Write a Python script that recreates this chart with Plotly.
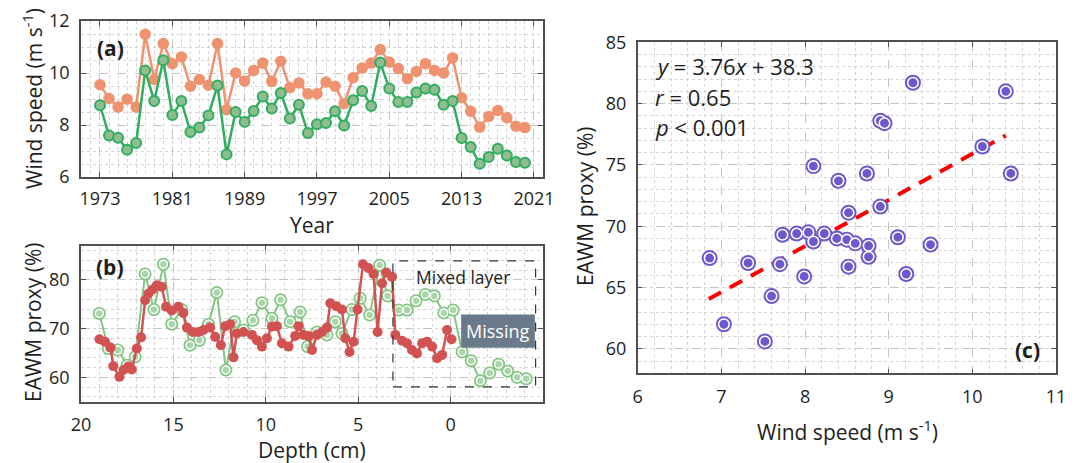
import plotly.graph_objects as go

W, H = 1077, 463

# ---------------- Data ----------------
years = list(range(1973, 2021))
wind_orange = [9.55, 9.02, 8.69, 8.99, 8.69, 11.49, 9.75, 11.13, 10.36, 10.62,
               9.49, 9.75, 9.53, 11.13, 8.59, 10.0, 9.69, 10.1, 10.38, 9.68,
               10.45, 9.44, 9.62, 9.2, 9.2, 9.65, 9.49, 8.82, 9.82, 10.19,
               10.38, 10.9, 10.42, 10.17, 9.78, 10.06, 10.36, 10.1, 10.0, 10.58,
               9.05, 8.53, 7.92, 8.33, 8.56, 8.28, 7.95, 7.9]
wind_green = [8.76, 7.6, 7.51, 7.05, 7.31, 10.1, 8.92, 10.49, 8.38, 8.92,
              7.73, 7.9, 8.37, 9.52, 6.87, 8.5, 8.12, 8.54, 9.1, 8.63,
              9.23, 8.25, 8.78, 7.69, 8.03, 8.08, 8.53, 7.98, 8.95, 9.31,
              8.73, 10.4, 9.4, 8.88, 8.88, 9.25, 9.4, 9.36, 8.78, 8.92,
              7.5, 7.15, 6.51, 6.77, 7.09, 6.83, 6.58, 6.55]

depth_green = [19.01, 18.52, 18.01, 17.5, 17.07, 16.53, 16.05, 15.54, 15.09, 14.55,
               14.1, 13.59, 13.1, 12.65, 12.16, 11.69, 11.2, 10.7, 10.21, 9.67,
               9.2, 8.68, 8.14, 7.74, 7.23, 6.69, 6.24, 5.88, 5.34, 4.89,
               4.38, 3.84, 3.41, 2.81, 2.36, 1.87, 1.37, 0.88, 0.37, -0.14,
               -0.62, -1.11, -1.61, -2.12, -2.6, -3.09, -3.6, -4.09]
eawm_green = [73.1, 65.9, 65.6, 62.5, 64.2, 81.2, 73.9, 83.2, 70.9, 73.9,
              66.6, 67.6, 70.9, 77.4, 61.5, 71.4, 69.7, 71.7, 75.3, 72.1,
              75.9, 71.4, 73.4, 66.3, 69.3, 68.7, 71.4, 69.0, 73.9, 76.2,
              72.8, 83.0, 76.7, 73.8, 73.8, 75.7, 77.0, 76.7, 73.2, 73.8,
              65.2, 63.4, 59.3, 60.9, 62.7, 61.3, 60.0, 59.7]

depth_red = [19.0, 18.7, 18.4, 18.25, 17.92, 17.7, 17.44, 17.25, 16.98, 16.75,
             16.53, 16.35, 16.12, 15.9, 15.63, 15.4, 15.09, 14.73, 14.46, 14.27,
             13.95, 13.64, 13.37, 13.01, 12.74, 12.43, 12.2, 11.93, 11.75, 11.57,
             11.21, 10.75, 10.48, 10.21, 9.94, 9.67, 9.4, 9.13, 8.77, 8.41,
             8.23, 7.96, 7.69, 7.5, 7.23, 6.96, 6.69, 6.51, 6.19, 5.88,
             5.7, 5.47, 5.25, 5.03, 4.74, 4.44, 4.17, 3.95, 3.71, 3.48,
             3.17, 2.99, 2.63, 2.36, 2.09, 1.82, 1.54, 1.27, 1.0, 0.73,
             0.46, 0.19, -0.05]
eawm_red = [67.8, 67.3, 66.1, 62.3, 60.1, 61.5, 62.2, 61.6, 65.9, 68.2,
            75.8, 77.2, 78.0, 78.9, 78.6, 74.5, 73.7, 74.5, 73.2, 70.2,
            69.3, 69.3, 69.7, 70.2, 68.3, 66.6, 70.5, 70.9, 64.1, 69.0,
            69.3, 68.7, 67.6, 66.3, 68.0, 70.4, 70.5, 67.0, 66.3, 68.5,
            70.5, 68.7, 68.5, 65.6, 68.7, 69.3, 70.2, 75.2, 74.6, 73.9,
            68.0, 65.2, 67.3, 73.9, 83.2, 82.4, 81.2, 69.3, 79.3, 81.5,
            80.6, 68.7, 67.5, 67.0, 65.6, 64.9, 67.0, 67.3, 66.3, 63.9,
            64.6, 69.7, 67.8]

wind_c = [6.86, 7.03, 7.32, 7.52, 7.6, 7.7, 7.73, 7.9, 7.99, 8.04,
          8.1, 8.1, 8.23, 8.38, 8.4, 8.5, 8.52, 8.52, 8.6, 8.74,
          8.76, 8.76, 8.9, 8.95, 8.9, 9.11, 9.21, 9.29, 9.5, 10.12,
          10.4, 10.46]
eawm_c = [67.4, 62.0, 67.0, 60.6, 64.3, 66.9, 69.3, 69.4, 65.9, 69.5,
          68.75, 74.9, 69.4, 69.0, 73.7, 68.9, 71.1, 66.7, 68.6, 74.3,
          68.4, 67.5, 78.6, 78.4, 71.6, 69.1, 66.1, 81.7, 68.5, 76.5,
          81.0, 74.3]

fit_slope, fit_intercept = 3.76, 38.3
fit_x = [6.85, 10.4]
fit_y = [fit_slope * v + fit_intercept for v in fit_x]

year_ticks = [1973, 1981, 1989, 1997, 2005, 2013, 2021]
depth_ticks = [20, 15, 10, 5, 0]

# ---------------- Colors ----------------
ORANGE = "#ee9270"
GREEN_LINE = "#2fae5f"
GREEN_FILL = "#8fbd8f"
LGREEN = "#84c584"
RED = "#d25252"
PURPLE = "#6a5acd"
FONT = "Open Sans"
TEXT = "#1e1e1e"


def px(x):
    return x / W


def py(y):
    return 1 - y / H


fig = go.Figure()

# ----- Panel (a) -----
fig.add_trace(go.Scatter(x=years, y=wind_orange, mode="lines+markers",
                         line=dict(color=ORANGE, width=2.5),
                         marker=dict(size=11.5, color=ORANGE),
                         xaxis="x", yaxis="y", showlegend=False))
fig.add_trace(go.Scatter(x=years, y=wind_green, mode="lines+markers",
                         line=dict(color=GREEN_LINE, width=2.5),
                         marker=dict(size=10, color=GREEN_FILL,
                                     line=dict(color=GREEN_LINE, width=2)),
                         xaxis="x", yaxis="y", showlegend=False))

# ----- Panel (b) -----
fig.add_trace(go.Scatter(x=depth_green, y=eawm_green, mode="lines+markers",
                         line=dict(color=LGREEN, width=2),
                         marker=dict(size=13, color=LGREEN),
                         xaxis="x2", yaxis="y2", showlegend=False))
fig.add_trace(go.Scatter(x=depth_green, y=eawm_green, mode="markers",
                         marker=dict(size=8, color="#a9d6a9",
                                     line=dict(color="white", width=1.5)),
                         xaxis="x2", yaxis="y2", showlegend=False))
fig.add_trace(go.Scatter(x=depth_red, y=eawm_red, mode="lines+markers",
                         line=dict(color=RED, width=2.5),
                         marker=dict(size=10, color=RED),
                         xaxis="x2", yaxis="y2", showlegend=False))

# ----- Panel (c) -----
fig.add_trace(go.Scatter(x=fit_x, y=fit_y, mode="lines",
                         line=dict(color="#ff0000", width=4, dash="14px,10px"),
                         xaxis="x3", yaxis="y3", showlegend=False))
fig.add_trace(go.Scatter(x=wind_c, y=eawm_c, mode="markers",
                         marker=dict(size=16, color=PURPLE),
                         xaxis="x3", yaxis="y3", showlegend=False))
fig.add_trace(go.Scatter(x=wind_c, y=eawm_c, mode="markers",
                         marker=dict(size=10.5, color=PURPLE,
                                     line=dict(color="white", width=1.6)),
                         xaxis="x3", yaxis="y3", showlegend=False))

# ---------------- Axes ----------------
def axis_common(**kw):
    d = dict(showline=True, linecolor="#505050", linewidth=1.5, mirror="allticks",
             ticks="inside", ticklen=5, tickcolor="#505050", tickwidth=1,
             showgrid=True, gridcolor="#c4c4c4", griddash="dash", gridwidth=1,
             zeroline=False, automargin=False,
             tickfont=dict(family=FONT, size=18, color=TEXT))
    d.update(kw)
    return d


MINOR = dict(showgrid=True, gridcolor="#d4d4d4", griddash="dot", ticks="")

fig.update_layout(
    width=W, height=H, margin=dict(l=0, r=0, t=0, b=0, autoexpand=False),
    paper_bgcolor="white", plot_bgcolor="white",
    font=dict(family=FONT, color=TEXT),
    xaxis=axis_common(domain=[px(81), px(543)], range=[1970.9, 2022], anchor="y",
                      tickvals=year_ticks, ticklabelstandoff=5,
                      minor=dict(dtick=1, tick0=1973, **MINOR)),
    yaxis=axis_common(domain=[py(177), py(21)], range=[6, 12], anchor="x",
                      dtick=2, ticklabelstandoff=6,
                      minor=dict(dtick=0.5, **MINOR)),
    xaxis2=axis_common(domain=[px(81), px(543)], range=[20, -5], anchor="y2",
                       tickvals=depth_ticks, ticklabelstandoff=6,
                       minor=dict(dtick=1, **MINOR)),
    yaxis2=axis_common(domain=[py(401.7), py(245.7)], range=[55, 87], anchor="x2",
                       tickvals=[60, 70, 80], ticklabelstandoff=6,
                       minor=dict(dtick=2, tick0=54, **MINOR)),
    xaxis3=axis_common(domain=[px(637.7), px(1056)], range=[6, 11], anchor="y3",
                       dtick=1, ticklabelstandoff=6,
                       minor=dict(dtick=0.2, **MINOR)),
    yaxis3=axis_common(domain=[py(373.3), py(42.3)], range=[58, 85], anchor="x3",
                       tickvals=[60, 65, 70, 75, 80, 85], ticklabelstandoff=6,
                       minor=dict(dtick=1, **MINOR)),
)

# ---------------- Shapes ----------------
fig.add_shape(type="rect", xref="x2", yref="y2", x0=3.12, x1=-4.6, y0=58.05, y1=83.9,
              line=dict(color="#333333", width=1.2, dash="dash"), layer="above")
fig.add_shape(type="rect", xref="x2", yref="y2", x0=-0.57, x1=-4.56, y0=66.05, y1=72.9,
              line=dict(width=0), fillcolor="#6b7a8a", layer="above")

# ---------------- Annotations ----------------
def ann(text, x, y, size, **kw):
    d = dict(text=text, x=px(x), y=py(y), xref="paper", yref="paper",
             showarrow=False, xanchor="center", yanchor="middle",
             font=dict(family=FONT, size=size, color=TEXT))
    d.update(kw)
    fig.add_annotation(**d)


ann("Wind speed (m s<sup>-1</sup>)", 32, 99, 21, textangle=-90)
ann("Year", 312, 225, 21)
ann("EAWM proxy (%)", 33, 323, 21, textangle=-90)
ann("Depth (cm)", 312, 450, 21)
ann("EAWM proxy (%)", 585, 207, 21, textangle=-90)
ann("Wind speed (m s<sup>-1</sup>)", 847, 430, 21)

ann("<b>(a)</b>", 110, 48, 21)
ann("<b>(b)</b>", 110, 267, 21)
ann("<b>(c)</b>", 1027, 350, 21)

ann("Mixed layer", 463, 277, 17.5)
ann("Missing", 497.5, 331, 18, font=dict(family=FONT, size=18, color="white"))

ann("<i>y</i> = 3.76<i>x</i> + 38.3", 653, 66, 22, xanchor="left")
ann("<i>r</i> = 0.65", 653, 97, 22, xanchor="left")
ann("<i>p</i> &lt; 0.001", 653, 127, 22, xanchor="left")

fig.write_html("out.html")
